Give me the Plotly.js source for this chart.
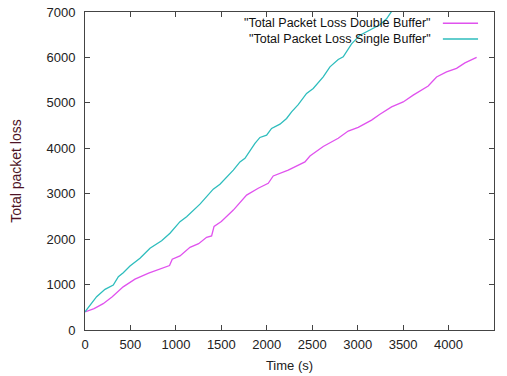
<!DOCTYPE html>
<html>
<head>
<meta charset="utf-8">
<script src="https://cdn.plot.ly/plotly-3.0.1.min.js"></script>
<style>html,body{margin:0;padding:0;background:#fff;}#chart{width:507px;height:376px;}</style>
</head>
<body>
<div id="chart"></div>
<script>
const seriesNames = ['"Total Packet Loss Double Buffer"', '"Total Packet Loss Single Buffer"'];
const seriesColors = ['#e052ee', '#2ebdbd'];

const doubleTime = [0,100,200,300,420,550,700,880,930,960,1045,1155,1250,1338,1393,1420,1500,1632,1778,1906,2016,2071,2236,2420,2475,2621,2786,2896,3006,3153,3245,3373,3501,3611,3776,3868,3978,4088,4180,4309];
const doubleLoss = [400,470,580,730,950,1120,1250,1380,1420,1560,1630,1820,1900,2040,2070,2280,2390,2640,2970,3120,3230,3390,3520,3700,3830,4040,4220,4380,4460,4620,4750,4910,5020,5170,5370,5570,5680,5760,5880,6000];

const singleTime = [0,60,128,220,311,367,421,495,605,715,843,935,1045,1118,1265,1411,1485,1632,1705,1760,1870,1925,1998,2053,2145,2218,2273,2346,2438,2511,2621,2695,2786,2841,2933,3025,3135,3245,3318,3373,3420];
const singleLoss = [400,560,733,895,990,1175,1260,1410,1580,1800,1965,2130,2385,2495,2770,3100,3210,3520,3700,3780,4107,4239,4290,4437,4532,4657,4803,4960,5207,5317,5573,5793,5955,6013,6300,6490,6600,6720,6850,7003,7150];

const xTicks = [0,500,1000,1500,2000,2500,3000,3500,4000,4500];
const yTicks = [0,1000,2000,3000,4000,5000,6000,7000];

const traces = [
  {x: doubleTime, y: doubleLoss, name: seriesNames[0], mode: 'lines', line: {color: seriesColors[0], width: 1.3}, showlegend: false},
  {x: singleTime, y: singleLoss, name: seriesNames[1], mode: 'lines', line: {color: seriesColors[1], width: 1.3}, showlegend: false}
];

const legendTextX = 0.850, sampleX0 = 0.875, sampleX1 = 0.961;
const legendRows = [0.965, 0.915];
const annotations = seriesNames.map((n, i) => ({
  xref: 'paper', yref: 'paper', x: legendTextX, y: legendRows[i],
  xanchor: 'right', yanchor: 'middle', text: n, showarrow: false,
  font: {family: 'Liberation Sans, Arial, sans-serif', size: 12.5, color: '#111'}
}));
const shapes = seriesNames.map((n, i) => ({
  type: 'line', xref: 'paper', yref: 'paper', x0: sampleX0, x1: sampleX1,
  y0: legendRows[i], y1: legendRows[i], line: {color: seriesColors[i], width: 1.5}
}));

const axisCommon = {
  showgrid: false, zeroline: false, showline: true, linecolor: '#444', linewidth: 1,
  mirror: 'ticks', ticks: 'inside', ticklen: 5, tickcolor: '#444', tickwidth: 1,
  tickfont: {family: 'Liberation Sans, Arial, sans-serif', size: 13, color: '#222'}
};

const layout = {
  width: 507, height: 376,
  margin: {l: 85, r: 13, t: 12, b: 46, pad: 0},
  paper_bgcolor: '#fff', plot_bgcolor: '#fff',
  xaxis: Object.assign({}, axisCommon, {
    range: [0, 4500], tickvals: xTicks, ticktext: xTicks.map(String),
    ticklabelstandoff: 2,
    title: {text: 'Time (s)', standoff: 10, font: {family: 'Liberation Sans, Arial, sans-serif', size: 13, color: '#222'}}
  }),
  yaxis: Object.assign({}, axisCommon, {
    range: [0, 7000], tickvals: yTicks, ticktext: yTicks.map(String),
    ticklabelstandoff: 6,
    title: {text: 'Total packet loss', standoff: 21, font: {family: 'Liberation Sans, Arial, sans-serif', size: 14, color: '#4e1426'}}
  }),
  annotations: annotations,
  shapes: shapes
};

Plotly.newPlot('chart', traces, layout, {displayModeBar: false, staticPlot: true});
</script>
</body>
</html>
